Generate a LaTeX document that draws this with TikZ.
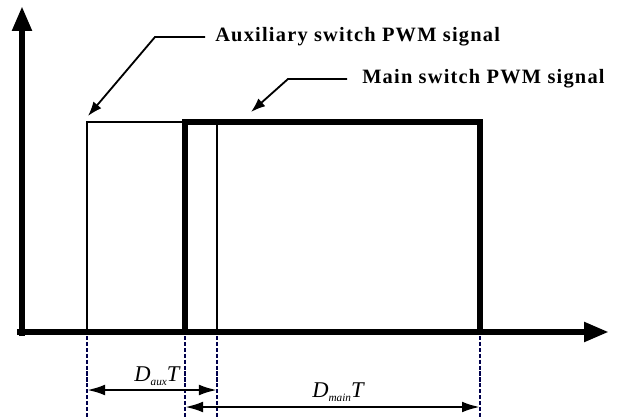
\documentclass[tikz,border=0pt]{standalone}
\usepackage{fontspec}
\setmainfont{Liberation Serif}
\newfontfamily\sigfont[LetterSpace=6]{Liberation Serif}
\usetikzlibrary{positioning, arrows.meta}

\begin{document}
\begin{tikzpicture}[
  x=0.025cm, y=-0.025cm,
  axis/.style={line width=4.8pt, -{Triangle[length=0.62cm, width=0.46cm]}},
  auxpulse/.style={line width=1.8pt},
  mainpulse/.style={line width=4.8pt},
  guide/.style={draw=blue!30!black, line width=2pt, dash pattern=on 3pt off 1.2pt},
  dim/.style={line width=1.8pt, {Latex[length=0.45cm, width=0.27cm]}-{Latex[length=0.45cm, width=0.27cm]}},
  lead/.style={line width=1.3pt, -{Latex[length=0.36cm, width=0.26cm]}},
  sig/.style={font=\sigfont\bfseries\fontsize{14.5}{16}\selectfont, inner sep=0pt, anchor=west},
  dutylbl/.style={font=\fontsize{16}{18}\selectfont\itshape, inner sep=0pt}
]
\useasboundingbox (0,0) rectangle (624,419);

% --- Axes ---
\coordinate (origin) at (17,332);
\draw[axis] (22,336) -- (22,6);
\draw[axis] (origin) -- (609,332);

% --- Pulse corners ---
\coordinate (a0) at (87,332);
\coordinate (a1) at (217,332);
\coordinate (m0) at (185,332);
\coordinate (m1) at (480,332);

% auxiliary pulse (thin)
\draw[auxpulse] (a0) -- (87,122) -- (217,122) -- (a1);
% main pulse (thick)
\draw[mainpulse] (m0) -- (185,122) -- (480,122) -- (m1);

% --- Guide lines below time axis ---
\coordinate (ga0) at (87,419);
\coordinate (ga1) at (217,419);
\coordinate (gm0) at (185,419);
\coordinate (gm1) at (480,419);
\draw[guide] (87,336) -- (ga0);
\draw[guide] (217,336) -- (ga1);
\draw[guide] (185,336) -- (gm0);
\draw[guide] (480,336) -- (gm1);

% --- Duty cycle dimensions ---
\coordinate (da0) at (87,390);
\coordinate (da1) at (217,390);
\coordinate (dm0) at (185,407);
\coordinate (dm1) at (480,407);
\draw[dim] (da0) -- (da1);
\draw[dim] (dm0) -- (dm1);
\node[dutylbl] (dauxlbl) at (157,376) {D\raisebox{-2.5pt}{\fontsize{8}{9}\selectfont aux}T};
\node[dutylbl] (dmainlbl) at (338,392) {D\raisebox{-2.5pt}{\fontsize{8}{9}\selectfont main}T};

% --- Signal labels ---
\node[sig] (auxlbl) at (215,37) {Auxiliary switch PWM signal};
\node[sig] (mainlbl) at (362,79) {Main switch PWM signal};
\coordinate (auxtip) at (88,116);
\coordinate (maintip) at (251,112);
\draw[lead] (auxlbl.west) ++(-10,0) -- (155,37) -- (auxtip);
\draw[lead] (mainlbl.west) ++(-15,0) -- (288,79) -- (maintip);

\end{tikzpicture}
\end{document}
